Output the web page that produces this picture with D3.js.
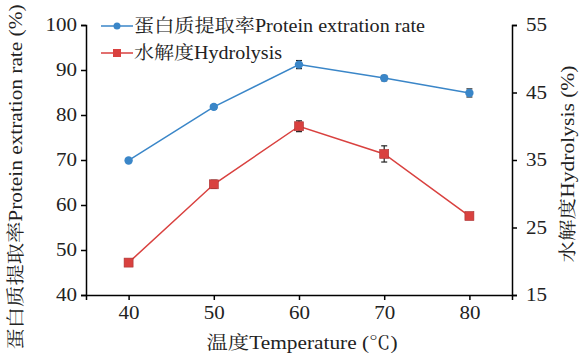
<!DOCTYPE html>
<html>
<head>
<meta charset="utf-8">
<script src="https://cdn.jsdelivr.net/npm/d3@7"></script>
<style>
body { margin: 0; background: #fff; }
</style>
</head>
<body>
<svg id="chart" width="580" height="356"></svg>
<script>
// temperature (C)
var temps = [40, 50, 60, 70, 80];
// protein extraction rate (%) and its error
var protein = [69.9, 81.8, 91.2, 88.2, 84.9];
var proteinErr = [0.3, 0.5, 0.9, 0.6, 0.9];
// hydrolysis (%) and its error
var hydro = [19.8, 31.4, 40.0, 35.9, 26.7];
var hydroErr = [0.4, 0.6, 0.8, 1.2, 0.4];

var xTicks = [40, 50, 60, 70, 80];
var leftTicks = [40, 50, 60, 70, 80, 90, 100];
var rightTicks = [15, 25, 35, 45, 55];

var FONT = "'Liberation Serif', 'Noto Serif CJK SC', serif";
var blue = '#3a86c8', red = '#d9413f';
var svg = d3.select('#chart');
var m = {l: 86, r: 68, t: 25, b: 61};
var W = 580, H = 356;

var x = d3.scaleLinear().domain([35, 85]).range([m.l, W - m.r]);
var yL = d3.scaleLinear().domain([40, 100]).range([H - m.b, m.t]);
var yR = d3.scaleLinear().domain([15, 55]).range([H - m.b, m.t]);

// text helper, font set on every label; len stretches to the reference's wider type
var label = (sel, len) => {
	sel.style('font-family', FONT).style('font-size', '18px').attr('fill', '#222');
	if (len) sel.attr('textLength', len).attr('lengthAdjust', 'spacingAndGlyphs');
};

// axes
var styleAxis = (g) => {
	g.attr('font-family', null).attr('font-size', null);
	g.select('.domain').attr('stroke', '#000').attr('stroke-width', 1.5);
	g.selectAll('.tick line').attr('stroke', '#000').attr('stroke-width', 1.5);
	g.selectAll('.tick text').each(function(d) {
		d3.select(this).call(label, String(d).length * 10.5);
	});
};
svg.append('g').attr('transform', 'translate(0,' + (H - m.b) + ')')
	.call(d3.axisBottom(x).tickValues(xTicks).tickSizeOuter(0).tickSize(5).tickPadding(6))
	.call(styleAxis);
svg.append('g').attr('transform', 'translate(' + m.l + ',0)')
	.call(d3.axisLeft(yL).tickValues(leftTicks).tickSizeOuter(0).tickSize(5).tickPadding(4))
	.call(styleAxis);
svg.append('g').attr('transform', 'translate(' + (W - m.r) + ',0)')
	.call(d3.axisRight(yR).tickValues(rightTicks).tickSizeOuter(0).tickSize(5).tickPadding(9))
	.call(styleAxis);

// one series: line, error bars, markers
var drawSeries = (vals, errs, y, color, shape) => {
	var g = svg.append('g');
	g.append('path').datum(vals)
		.attr('fill', 'none').attr('stroke', color).attr('stroke-width', 1.5)
		.attr('d', d3.line().x((d, i) => x(temps[i])).y((d) => y(d)));
	var eb = g.selectAll('g.err').data(vals).enter().append('g').attr('stroke', '#222').attr('stroke-width', 1.2);
	eb.append('line')
		.attr('x1', (d, i) => x(temps[i])).attr('x2', (d, i) => x(temps[i]))
		.attr('y1', (d, i) => y(d - errs[i])).attr('y2', (d, i) => y(d + errs[i]));
	[-1, 1].forEach((s) => {
		eb.append('line')
			.attr('x1', (d, i) => x(temps[i]) - 3).attr('x2', (d, i) => x(temps[i]) + 3)
			.attr('y1', (d, i) => y(d + s * errs[i])).attr('y2', (d, i) => y(d + s * errs[i]));
	});
	if (shape === 'circle') {
		g.selectAll('circle').data(vals).enter().append('circle')
			.attr('cx', (d, i) => x(temps[i])).attr('cy', (d) => y(d)).attr('r', 4.2)
			.attr('fill', color);
	} else {
		g.selectAll('rect').data(vals).enter().append('rect')
			.attr('x', (d, i) => x(temps[i]) - 4.5).attr('y', (d) => y(d) - 4.5)
			.attr('width', 9).attr('height', 9)
			.attr('fill', color).attr('stroke', '#a33').attr('stroke-width', 0.6);
	}
};
drawSeries(protein, proteinErr, yL, blue, 'circle');
drawSeries(hydro, hydroErr, yR, red, 'square');

// legend
var legend = [
	{label: '蛋白质提取率Protein extration rate', color: blue, shape: 'circle', y: 26, len: 291},
	{label: '水解度Hydrolysis', color: red, shape: 'square', y: 53, len: 148}
];
legend.forEach((d) => {
	var g = svg.append('g');
	g.append('line').attr('x1', 101).attr('x2', 133).attr('y1', d.y).attr('y2', d.y)
		.attr('stroke', d.color).attr('stroke-width', 1.5);
	if (d.shape === 'circle') g.append('circle').attr('cx', 117).attr('cy', d.y).attr('r', 3.5).attr('fill', d.color);
	else g.append('rect').attr('x', 113).attr('y', d.y - 4).attr('width', 8).attr('height', 8).attr('fill', d.color);
	g.append('text').attr('x', 134).attr('y', d.y + 6).call(label, d.len).text(d.label);
});

// axis titles
svg.append('text').attr('transform', 'translate(22,177) rotate(-90)').attr('text-anchor', 'middle')
	.call(label, 345).text('蛋白质提取率Protein extration rate (%)');
svg.append('text').attr('transform', 'translate(574,164) rotate(-90)').attr('text-anchor', 'middle')
	.call(label, 197).text('水解度Hydrolysis (%)');
svg.append('text').attr('x', 302).attr('y', 349).attr('text-anchor', 'middle')
	.call(label, 191).text('温度Temperature (℃)');
</script>
</body>
</html>
